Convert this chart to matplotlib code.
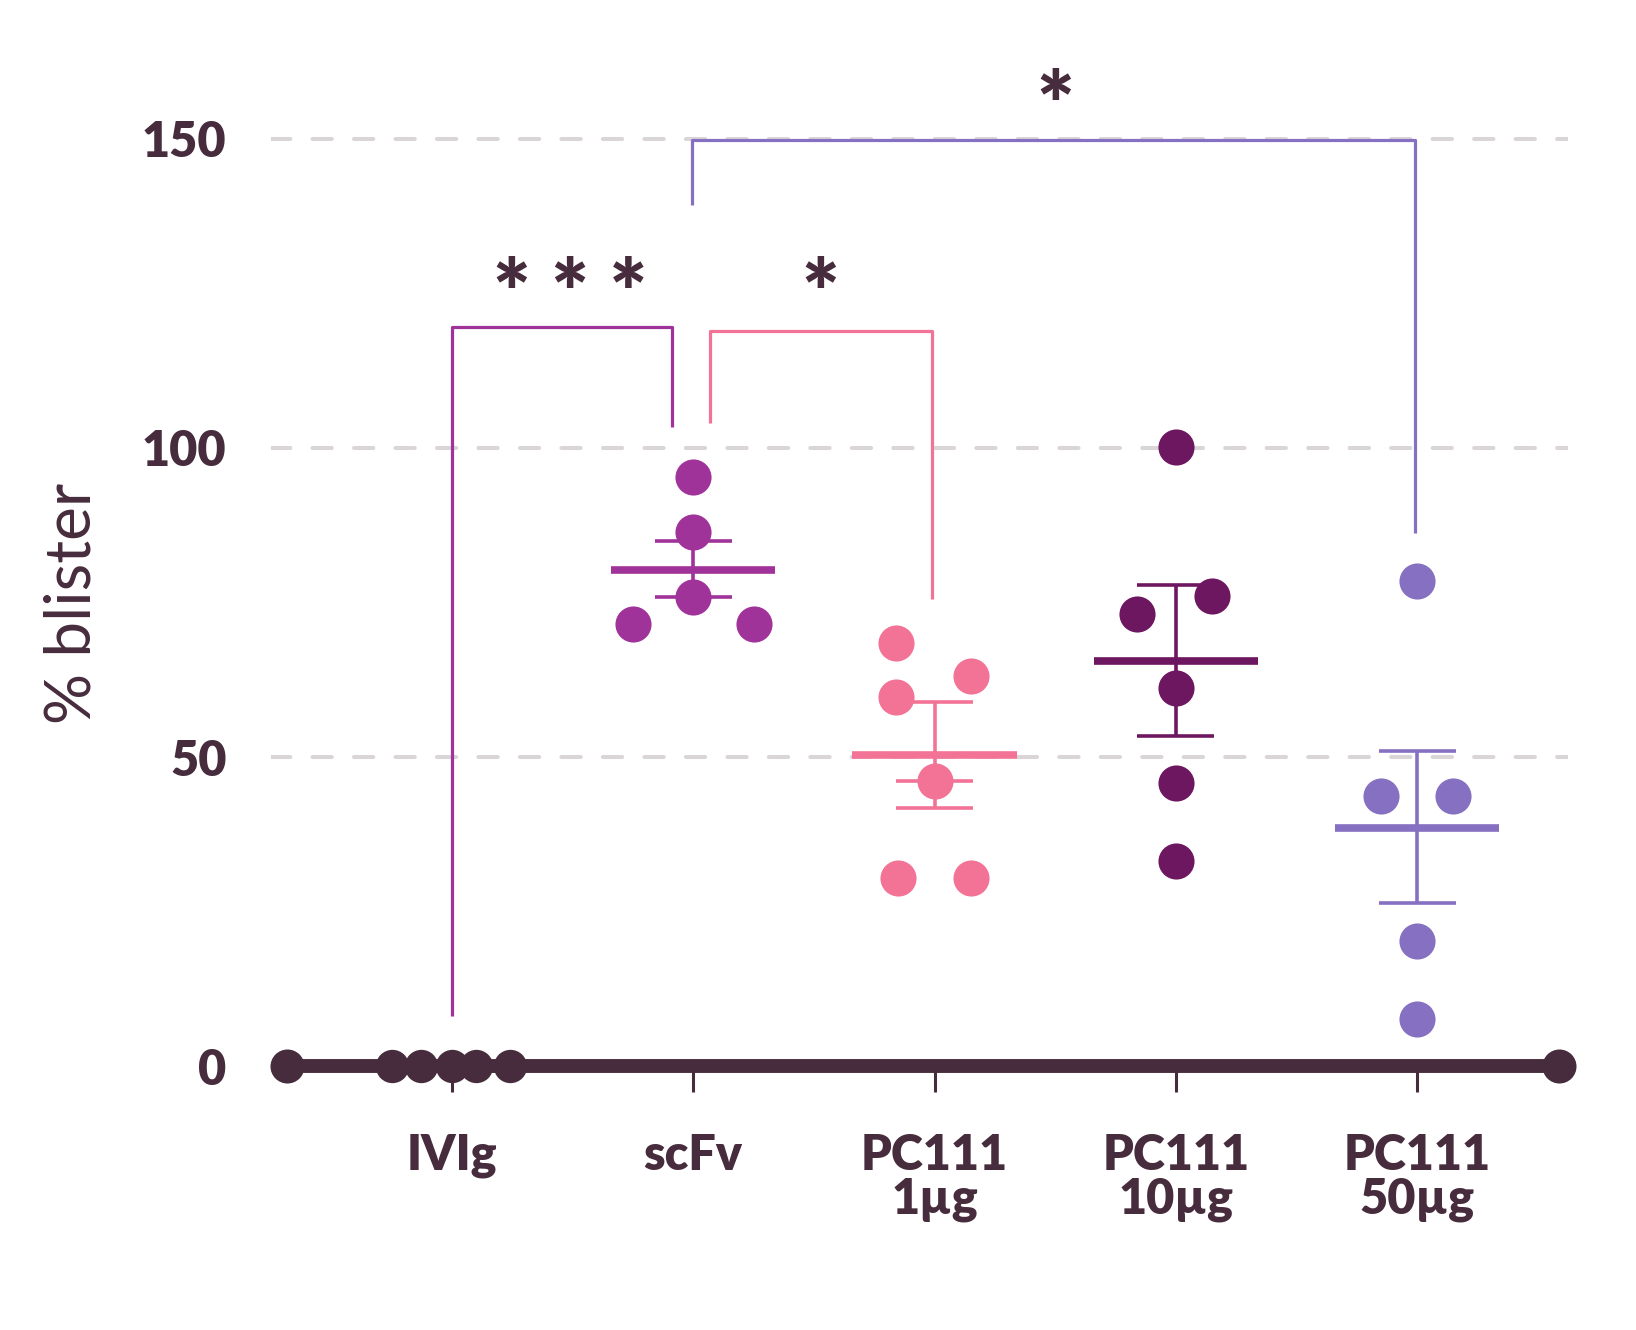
import matplotlib
matplotlib.use("Agg")
import matplotlib.pyplot as plt
import numpy as np

plt.rcParams['font.family'] = ['Lato', 'DejaVu Sans']

dark = '#462C3C'
grid_col = '#DAD6D8'

groups = ['IVIg', 'scFv', 'PC111\n1µg', 'PC111\n10µg', 'PC111\n50µg']
colors = [dark, '#A0339A', '#F37396', '#6E1761', '#8670C1']

# individual values (x offsets within each group, y values)
ivig_dx = [-0.25, -0.13, 0.0, 0.10, 0.24]
ivig_y = [0, 0, 0, 0, 0]
scfv_dx = [0.0, 0.0, 0.0, -0.25, 0.25]
scfv_y = [95.3, 86.4, 75.9, 71.5, 71.5]
pc1_dx = [-0.16, 0.15, -0.16, 0.0, -0.15, 0.15]
pc1_y = [68.5, 63.1, 59.7, 46.1, 30.5, 30.5]
pc10_dx = [0.0, -0.16, 0.15, 0.0, 0.0, 0.0]
pc10_y = [100.2, 73.1, 76.1, 61.2, 45.9, 33.2]
pc50_dx = [0.0, -0.15, 0.15, 0.0, 0.0]
pc50_y = [78.5, 43.7, 43.7, 20.2, 7.6]

# mean and SEM bars (mean, lower cap, upper cap)
means = [0, 80.3, 50.4, 65.6, 38.5]
err_lo = [0, 75.9, 41.8, 53.5, 26.5]
err_hi = [0, 85.0, 58.9, 77.9, 51.0]
pc1_extra_cap = 46.1

# significance brackets
brackets = [
    ([0.0, 0.0, 0.913, 0.913], [8.2, 119.5, 119.5, 103.4], '#A0339A'),
    ([1.071, 1.071, 1.99, 1.99], [104.0, 118.9, 118.9, 75.6], '#F37396'),
    ([0.993, 0.993, 3.99, 3.99], [139.3, 149.8, 149.8, 86.3], '#8670C1'),
]
stars = [(0.49, 120.0, '* * *'), (1.527, 120.0, '*'), (2.50, 150.4, '*')]

fig = plt.figure(figsize=(16.36, 13.30), dpi=100)
ax = fig.add_axes([0.1656, 0.1517, 0.7928, 0.8137])
ax.set_xlim(-0.75, 4.625)
ax.set_ylim(-10, 165)

for v in [50, 100, 150]:
    ax.axhline(v, color=grid_col, lw=2.9, ls=(0, (4.8, 5.5)),
               dash_capstyle='round', zorder=0)

all_dx = [ivig_dx, scfv_dx, pc1_dx, pc10_dx, pc50_dx]
all_y = [ivig_y, scfv_y, pc1_y, pc10_y, pc50_y]

for i, (dx, ys, c) in enumerate(zip(all_dx, all_y, colors)):
    ms = 24 if i == 0 else 26
    ax.plot(np.array(dx) + i, ys, 'o', color=c, ms=ms, mew=0,
            zorder=6, clip_on=False)
    if i == 0:
        continue
    ax.hlines(means[i], i - 0.34, i + 0.34, color=c, lw=5.5, zorder=4)
    ax.vlines(i, err_lo[i], err_hi[i], color=c, lw=2.6, zorder=4)
    ax.hlines([err_lo[i], err_hi[i]], i - 0.16, i + 0.16, color=c, lw=2.6,
              zorder=4)
ax.hlines(pc1_extra_cap, 2 - 0.16, 2 + 0.16, color=colors[2], lw=2.6, zorder=4)

for xs, ys, c in brackets:
    ax.plot(xs, ys, color=c, lw=2.3, solid_capstyle='butt', zorder=3,
            clip_on=False)
for x, y, s in stars:
    ax.text(x, y, s, ha='center', va='baseline', fontsize=64,
            fontweight='heavy', color=dark)

for side in ['top', 'right', 'left']:
    ax.spines[side].set_visible(False)
ax.spines['bottom'].set_position(('data', 0))
ax.spines['bottom'].set_bounds(-0.684, 4.588)
ax.spines['bottom'].set_linewidth(10)
ax.spines['bottom'].set_color(dark)
ax.spines['bottom'].set_zorder(5)
ax.plot([-0.684, 4.588], [0, 0], 'o', color=dark, ms=24.5, mew=0,
        zorder=6, clip_on=False)

ax.set_xticks(range(len(groups)))
ax.set_xticklabels(groups, fontsize=35, fontweight='heavy', color=dark,
                   linespacing=0.95)
ax.tick_params(axis='x', length=19, width=2.2, color=dark, pad=29)
ax.set_yticks([0, 50, 100, 150])
ax.set_yticklabels(['0', '50', '100', '150'], fontsize=35,
                   fontweight='heavy', color=dark, va='center_baseline')
ax.tick_params(axis='y', length=0, pad=32)

fig.text(0.0446, 0.5466, '% blister', rotation=90, ha='center',
         va='center', fontsize=46, color=dark)

fig.savefig('out.png', dpi=100, facecolor='white')
